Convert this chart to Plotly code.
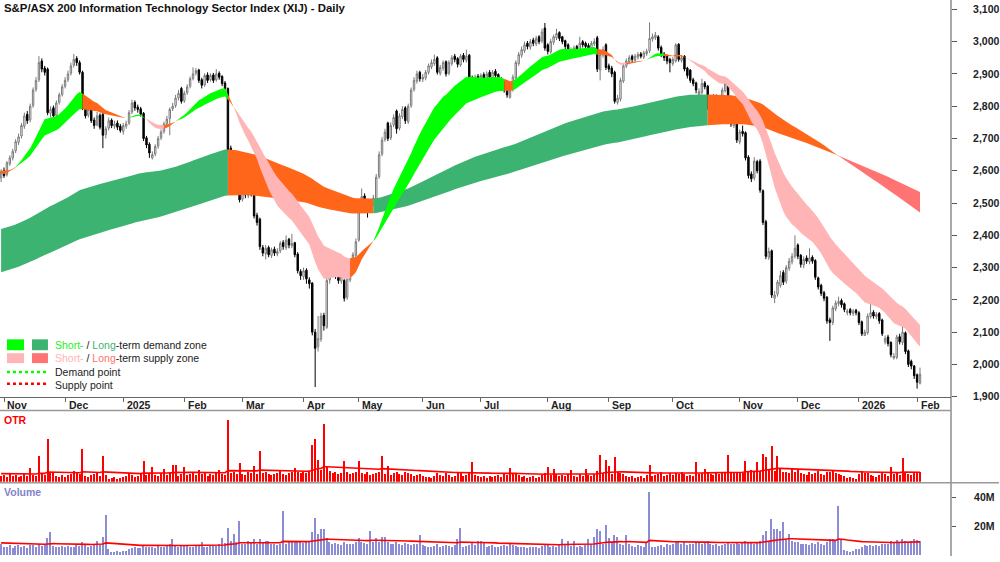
import numpy as np
import pandas as pd
import plotly.graph_objects as go

FONT = "Liberation Sans, Arial, sans-serif"

# ---------------- calendar / ticks ----------------
holidays = ["2024-12-25", "2024-12-26", "2025-01-01", "2025-01-27", "2025-04-18",
            "2025-04-21", "2025-04-25", "2025-06-09", "2025-12-25", "2025-12-26",
            "2026-01-01", "2026-01-26"]
dates = [d for d in pd.bdate_range("2024-10-31", "2026-02-03")
         if d.strftime("%Y-%m-%d") not in holidays]

month_labels = ["Nov", "Dec", "2025", "Feb", "Mar", "Apr", "May", "Jun", "Jul",
                "Aug", "Sep", "Oct", "Nov", "Dec", "2026", "Feb"]
price_ticks = [1900, 2000, 2100, 2200, 2300, 2400, 2500, 2600, 2700, 2800, 2900, 3000, 3100]
price_ticktext = ["1,900", "2,000", "2,100", "2,200", "2,300", "2,400", "2,500",
                  "2,600", "2,700", "2,800", "2,900", "3,000", "3,100"]
vol_ticks = [20, 40]
vol_ticktext = ["20M", "40M"]

# ---------------- daily OHLC (index points) ----------------
open_ = [
    2578, 2600, 2588, 2622, 2640, 2662, 2688, 2708, 2738, 2775, 2758, 2802, 2852, 2882, 2940, 2918, 2915, 2778, 2795, 2772, 2812, 2836,
    2862, 2882, 2902, 2927, 2948, 2935, 2905, 2798, 2772, 2790, 2757, 2742, 2772, 2775, 2712, 2732, 2757, 2738, 2748, 2738,
    2722, 2738, 2748, 2782, 2812, 2797, 2792, 2778, 2702, 2682, 2640, 2652, 2676, 2702, 2722, 2746, 2762, 2792, 2802, 2826, 2855,
    2817, 2842, 2862, 2886, 2902, 2912, 2882, 2866, 2897, 2882, 2897, 2882, 2902, 2892, 2872, 2855, 2670, 2638, 2598, 2555,
    2512, 2537, 2523, 2545, 2535, 2462, 2450, 2362, 2343, 2362, 2338, 2357, 2343, 2352, 2378, 2362, 2388, 2368, 2377, 2342, 2288,
    2272, 2292, 2262, 2252, 2100, 2055, 2078, 2152, 2115, 2262, 2282, 2302, 2278, 2258, 2260, 2208, 2262, 2308, 2338,
    2385, 2492, 2522, 2500, 2478, 2498, 2512, 2582, 2652, 2697, 2748, 2702, 2742, 2785, 2732, 2768, 2795, 2752, 2802, 2852, 2878, 2905,
    2884, 2888, 2905, 2922, 2932, 2950, 2902, 2918, 2938, 2902, 2932, 2955, 2948, 2928, 2958, 2942, 2958, 2888, 2868, 2893,
    2878, 2898, 2884, 2905, 2888, 2908, 2898, 2885, 2875, 2852, 2828, 2852, 2888, 2932, 2958, 2972, 2995, 2983, 3005, 2993, 3015, 3002, 3042,
    2990, 2968, 2998, 3012, 3028, 3015, 3003, 2990, 2968, 2972, 2985, 2968, 3000, 2995, 2988, 2978, 2993, 3012, 2912, 2958, 2990,
    2925, 2918, 2905, 2812, 2822, 2878, 2925, 2938, 2955, 2942, 2952, 2962, 2952, 2963, 2972, 3008, 3012, 3015, 2982, 2962, 2955, 2945,
    2932, 2940, 2992, 2942, 2955, 2918, 2912, 2882, 2872, 2835, 2842, 2872, 2862, 2798, 2818, 2832, 2800, 2815, 2848, 2868, 2772, 2740, 2748,
    2690, 2722, 2718, 2642, 2590, 2578, 2628, 2630, 2538, 2442, 2332, 2352, 2205, 2218, 2245, 2285, 2258, 2298, 2318, 2335,
    2370, 2338, 2308, 2330, 2318, 2332, 2322, 2268, 2245, 2222, 2208, 2138, 2130, 2172, 2188, 2198, 2188, 2160, 2170, 2158, 2168,
    2160, 2132, 2090, 2098, 2148, 2162, 2148, 2158, 2138, 2070, 2085, 2068, 2020, 2022, 2086, 2068, 2098, 2042, 2010, 1995,
    1968, 1942,
]
high = [
    2605, 2610, 2630, 2648, 2668, 2698, 2715, 2748, 2780, 2785, 2808, 2858, 2890, 2955, 2948, 2925, 2920, 2800, 2802, 2818, 2842, 2868,
    2890, 2910, 2935, 2962, 2955, 2942, 2910, 2805, 2798, 2795, 2765, 2782, 2778, 2780, 2738, 2765, 2762, 2755, 2756, 2745,
    2748, 2755, 2788, 2820, 2818, 2805, 2798, 2782, 2708, 2688, 2660, 2682, 2708, 2728, 2752, 2770, 2796, 2810, 2835, 2850, 2860,
    2848, 2868, 2892, 2920, 2918, 2916, 2888, 2902, 2905, 2902, 2903, 2915, 2908, 2896, 2878, 2858, 2678, 2645, 2605, 2562,
    2545, 2545, 2550, 2552, 2540, 2470, 2455, 2370, 2370, 2368, 2362, 2365, 2360, 2382, 2385, 2400, 2392, 2405, 2380, 2348, 2295,
    2300, 2298, 2270, 2255, 2110, 2150, 2160, 2160, 2338, 2295, 2312, 2308, 2285, 2290, 2265, 2272, 2318, 2348, 2390,
    2500, 2545, 2530, 2505, 2508, 2525, 2590, 2660, 2705, 2730, 2752, 2750, 2775, 2790, 2778, 2800, 2800, 2808, 2858, 2890, 2910, 2910,
    2900, 2912, 2932, 2945, 2960, 2955, 2928, 2942, 2942, 2942, 2958, 2962, 2952, 2962, 2965, 2975, 2962, 2895, 2898, 2900,
    2902, 2905, 2908, 2912, 2912, 2915, 2902, 2890, 2880, 2858, 2858, 2898, 2942, 2968, 2985, 3000, 3002, 3008, 3012, 3018, 3020, 3040, 3058,
    2995, 3008, 3022, 3040, 3032, 3018, 3006, 2995, 2982, 2988, 2990, 3015, 3005, 3000, 2995, 3002, 3010, 3018, 2968, 2985, 2995,
    2932, 2925, 2910, 2835, 2888, 2932, 2948, 2958, 2960, 2962, 2968, 2968, 2972, 2978, 3060, 3025, 3030, 3020, 2988, 2968, 2960, 2950,
    2952, 2995, 2995, 2958, 2958, 2922, 2915, 2888, 2876, 2855, 2885, 2878, 2866, 2828, 2838, 2836, 2822, 2858, 2885, 2872, 2778, 2762, 2752,
    2728, 2740, 2722, 2648, 2598, 2642, 2634, 2636, 2542, 2448, 2362, 2356, 2228, 2262, 2290, 2292, 2308, 2330, 2345, 2400,
    2375, 2342, 2335, 2338, 2360, 2338, 2326, 2272, 2250, 2228, 2212, 2145, 2182, 2198, 2210, 2204, 2192, 2172, 2175, 2172, 2172,
    2165, 2136, 2108, 2158, 2190, 2168, 2162, 2162, 2142, 2090, 2092, 2072, 2035, 2092, 2095, 2130, 2102, 2046, 2015, 1998,
    1972, 1990,
]
low = [
    2565, 2578, 2582, 2615, 2632, 2655, 2680, 2700, 2730, 2745, 2750, 2795, 2845, 2875, 2905, 2895, 2772, 2765, 2745, 2765, 2805, 2830,
    2855, 2875, 2895, 2920, 2925, 2898, 2788, 2762, 2765, 2748, 2730, 2738, 2728, 2670, 2700, 2725, 2732, 2730, 2726, 2718,
    2712, 2730, 2742, 2776, 2786, 2780, 2768, 2692, 2670, 2640, 2635, 2645, 2668, 2695, 2715, 2740, 2710, 2785, 2795, 2818, 2808,
    2810, 2835, 2855, 2880, 2895, 2872, 2855, 2860, 2872, 2876, 2872, 2876, 2882, 2862, 2846, 2655, 2625, 2590, 2552, 2502,
    2505, 2515, 2515, 2520, 2452, 2430, 2355, 2335, 2325, 2332, 2330, 2336, 2335, 2345, 2355, 2355, 2360, 2360, 2332, 2282, 2262,
    2262, 2250, 2235, 2090, 1930, 2040, 2070, 2105, 2110, 2250, 2270, 2265, 2250, 2250, 2195, 2200, 2255, 2300, 2330,
    2380, 2485, 2488, 2455, 2470, 2490, 2505, 2575, 2645, 2690, 2692, 2695, 2735, 2715, 2725, 2760, 2745, 2745, 2795, 2845, 2870, 2876,
    2875, 2880, 2898, 2915, 2925, 2898, 2895, 2910, 2892, 2896, 2925, 2936, 2920, 2922, 2936, 2935, 2878, 2820, 2860, 2872,
    2870, 2876, 2878, 2882, 2880, 2886, 2872, 2862, 2842, 2826, 2823, 2845, 2882, 2925, 2950, 2965, 2976, 2975, 2986, 2986, 2992, 2995, 2972,
    2960, 2962, 2990, 3005, 3002, 2992, 2976, 2966, 2960, 2965, 2962, 2962, 2982, 2976, 2972, 2970, 2986, 2906, 2880, 2950, 2912,
    2905, 2890, 2808, 2805, 2815, 2872, 2918, 2930, 2936, 2936, 2945, 2948, 2946, 2956, 2965, 3000, 3005, 2972, 2952, 2940, 2930, 2905,
    2925, 2935, 2938, 2935, 2908, 2886, 2872, 2862, 2840, 2826, 2836, 2852, 2788, 2790, 2810, 2796, 2794, 2808, 2842, 2762, 2736, 2732, 2686,
    2682, 2706, 2632, 2576, 2565, 2570, 2592, 2532, 2432, 2326, 2324, 2206, 2190, 2210, 2238, 2246, 2250, 2290, 2310, 2328,
    2326, 2300, 2298, 2312, 2310, 2312, 2262, 2232, 2212, 2196, 2126, 2073, 2122, 2165, 2180, 2176, 2162, 2152, 2152, 2150, 2152,
    2122, 2088, 2088, 2092, 2142, 2142, 2140, 2126, 2088, 2062, 2056, 2022, 2015, 2016, 2062, 2060, 2032, 1992, 1985, 1955,
    1925, 1938,
]
close = [
    2598, 2585, 2625, 2640, 2660, 2690, 2705, 2740, 2770, 2755, 2800, 2850, 2880, 2935, 2915, 2905, 2780, 2790, 2770, 2810, 2835, 2860,
    2880, 2900, 2925, 2945, 2935, 2905, 2795, 2770, 2790, 2755, 2740, 2770, 2735, 2710, 2730, 2755, 2740, 2745, 2735, 2725,
    2740, 2745, 2780, 2810, 2795, 2790, 2775, 2700, 2680, 2655, 2650, 2675, 2700, 2720, 2745, 2760, 2790, 2800, 2825, 2840, 2815,
    2840, 2860, 2885, 2900, 2910, 2880, 2865, 2895, 2880, 2895, 2880, 2900, 2890, 2870, 2855, 2665, 2635, 2600, 2560, 2510,
    2535, 2525, 2540, 2530, 2460, 2440, 2365, 2345, 2360, 2340, 2355, 2345, 2350, 2375, 2365, 2385, 2370, 2375, 2340, 2290, 2275,
    2290, 2265, 2250, 2100, 2050, 2080, 2150, 2120, 2260, 2280, 2300, 2275, 2260, 2280, 2205, 2265, 2310, 2340, 2380,
    2490, 2520, 2495, 2480, 2500, 2515, 2580, 2650, 2695, 2720, 2700, 2740, 2765, 2730, 2770, 2790, 2755, 2800, 2850, 2880, 2900, 2885,
    2890, 2905, 2925, 2935, 2945, 2905, 2920, 2935, 2900, 2935, 2950, 2945, 2930, 2955, 2945, 2955, 2885, 2870, 2890, 2880,
    2895, 2885, 2900, 2890, 2905, 2895, 2880, 2870, 2850, 2835, 2850, 2890, 2935, 2960, 2975, 2990, 2985, 3000, 2995, 3010, 3000, 3030, 2980,
    2970, 3000, 3015, 3025, 3010, 3000, 2985, 2975, 2975, 2980, 2970, 2995, 2990, 2985, 2980, 2995, 3000, 2915, 2960, 2975, 2920,
    2915, 2900, 2815, 2825, 2880, 2925, 2940, 2950, 2945, 2955, 2960, 2955, 2965, 2970, 3010, 3015, 3020, 2980, 2960, 2950, 2940, 2935,
    2945, 2990, 2945, 2950, 2915, 2895, 2880, 2870, 2850, 2845, 2870, 2860, 2795, 2820, 2830, 2805, 2815, 2850, 2870, 2770, 2745, 2755, 2695,
    2720, 2715, 2640, 2585, 2575, 2630, 2600, 2540, 2440, 2335, 2350, 2215, 2215, 2255, 2275, 2255, 2300, 2320, 2335, 2360,
    2335, 2310, 2325, 2320, 2330, 2320, 2270, 2240, 2220, 2205, 2135, 2130, 2175, 2190, 2195, 2185, 2170, 2165, 2160, 2165, 2160,
    2130, 2095, 2100, 2150, 2160, 2150, 2155, 2135, 2095, 2080, 2065, 2030, 2025, 2085, 2070, 2100, 2040, 2000, 1995, 1965,
    1945, 1970,
]

# ---------------- OTR (%) and Volume (millions) ----------------
otr = [
    0.6, 0.7, 0.5, 0.8, 0.6, 0.7, 0.5, 0.6, 0.9, 0.6, 1.5, 0.7, 0.6, 2.7, 0.8, 0.7, 4.4, 0.9, 1.0, 0.6, 0.5, 0.7,
    0.5, 0.7, 0.8, 1.2, 0.9, 0.8, 3.4, 0.6, 0.5, 0.7, 0.8, 0.9, 0.6, 2.7, 0.7, 0.3, 0.4, 0.5, 0.3, 0.4,
    0.5, 0.6, 0.9, 0.7, 0.5, 0.6, 0.8, 2.2, 0.7, 0.9, 1.6, 0.7, 0.6, 0.9, 1.4, 0.7, 1.1, 1.8, 1.8, 0.6, 0.8,
    1.6, 0.7, 0.8, 1.0, 0.7, 1.3, 0.8, 0.9, 0.6, 0.8, 0.7, 0.9, 1.3, 0.8, 0.7, 6.4, 0.9, 1.1, 0.8, 2.0,
    0.8, 0.7, 1.0, 0.9, 1.7, 0.8, 3.2, 0.9, 1.1, 0.8, 0.7, 0.8, 0.9, 1.2, 0.8, 0.7, 0.9, 1.0, 1.5, 1.1, 0.9,
    1.0, 0.9, 1.2, 3.8, 4.4, 2.3, 1.3, 6.0, 1.6, 1.2, 0.9, 1.0, 0.8, 0.9, 2.2, 1.1, 0.8, 0.9, 1.0,
    2.2, 0.9, 0.8, 1.0, 0.7, 0.8, 0.9, 1.1, 2.7, 0.8, 1.7, 0.7, 0.9, 1.0, 0.8, 0.7, 1.0, 0.9, 0.8, 0.6, 0.7, 0.8,
    0.6, 0.5, 0.5, 0.4, 0.6, 0.9, 0.7, 0.6, 0.9, 0.7, 0.5, 0.6, 1.1, 0.9, 0.6, 0.7, 1.0, 2.1, 0.7, 0.6,
    0.5, 0.6, 0.4, 0.6, 0.5, 0.6, 0.7, 0.5, 0.8, 0.7, 1.5, 0.9, 0.8, 0.7, 0.5, 0.6, 0.4, 0.5, 0.6, 0.4, 0.5, 0.7, 0.9,
    1.6, 0.7, 1.4, 0.8, 0.6, 0.7, 0.6, 0.8, 1.3, 0.6, 0.5, 0.8, 0.6, 1.4, 0.7, 0.6, 0.8, 1.2, 2.8, 0.9, 2.3,
    1.7, 0.8, 2.6, 1.0, 0.9, 0.8, 0.6, 0.5, 0.6, 0.4, 0.5, 0.6, 0.4, 0.7, 1.8, 0.6, 0.7, 0.8, 1.0, 0.6, 0.7, 0.9,
    0.7, 0.9, 0.8, 1.1, 0.8, 0.6, 0.7, 0.6, 2.1, 0.8, 0.9, 1.4, 1.0, 0.8, 0.7, 0.9, 0.8, 0.9, 1.0, 2.8, 1.0, 0.9, 1.1,
    1.0, 0.9, 2.2, 1.2, 1.3, 1.1, 2.1, 1.2, 2.9, 2.6, 1.4, 3.7, 1.2, 2.7, 1.5, 1.1, 1.0, 0.9, 1.5, 1.0,
    1.4, 0.9, 0.8, 0.7, 1.0, 0.8, 0.9, 1.2, 0.8, 0.7, 1.0, 1.1, 1.3, 0.9, 0.8, 0.7, 0.6, 0.4, 0.5, 0.4, 0.3,
    0.8, 1.2, 0.9, 0.9, 0.7, 0.6, 0.5, 0.7, 0.9, 0.8, 0.6, 1.6, 0.8, 1.0, 0.7, 2.5, 0.9, 0.8, 0.7, 0.9,
    1.1, 1.0,
]
volume = [
    7.5, 6.0, 5.5, 6.8, 5.0, 6.2, 7.0, 5.8, 6.5, 5.2, 7.2, 6.8, 6.0, 7.5, 6.4, 7.0, 12.0, 16.0, 6.5, 6.0, 5.5, 6.3,
    6.0, 6.5, 5.8, 6.0, 7.0, 6.2, 9.0, 7.0, 6.0, 6.5, 7.2, 10.0, 7.0, 12.5, 28.0, 4.0, 2.5, 2.0, 2.8, 2.5,
    2.8, 3.2, 4.5, 5.0, 5.5, 4.8, 5.2, 6.5, 5.8, 6.0, 5.5, 5.0, 6.2, 5.5, 6.0, 6.5, 7.5, 11.0, 7.0, 6.0, 6.5,
    6.5, 7.0, 6.0, 5.5, 6.8, 7.0, 9.0, 6.0, 5.5, 6.5, 7.0, 6.2, 8.0, 12.0, 8.5, 19.0, 10.0, 15.0, 9.0, 24.0,
    8.0, 7.5, 10.0, 8.5, 11.0, 8.0, 11.0, 8.5, 10.0, 10.0, 8.0, 7.5, 7.0, 8.0, 31.0, 7.5, 9.0, 10.0, 9.5, 10.0, 9.0,
    8.5, 9.0, 10.0, 16.0, 26.0, 15.0, 18.0, 18.0, 12.0, 9.0, 8.0, 8.5, 7.5, 7.0, 9.5, 8.0, 7.5, 8.0, 9.0,
    12.0, 9.0, 8.5, 8.0, 17.0, 9.0, 12.0, 9.5, 13.0, 13.0, 9.0, 8.0, 7.5, 9.0, 8.0, 7.0, 8.5, 7.5, 7.0, 8.0, 7.5, 14.0,
    7.0, 6.5, 6.0, 5.5, 6.5, 7.5, 6.0, 6.5, 7.0, 6.5, 6.0, 7.0, 11.0, 19.0, 6.0, 6.5, 7.0, 8.5, 7.0, 10.0,
    10.0, 9.5, 6.0, 6.5, 7.0, 6.0, 5.5, 6.5, 7.0, 6.5, 8.0, 7.0, 6.5, 6.0, 5.5, 6.0, 5.0, 5.5, 6.0, 5.5, 5.0, 6.5, 7.0,
    7.5, 6.0, 6.5, 6.0, 7.0, 11.0, 7.0, 10.0, 6.5, 10.0, 6.0, 6.5, 5.5, 7.0, 11.0, 7.5, 13.0, 18.0, 17.0, 8.0, 21.0,
    12.0, 9.0, 14.0, 13.0, 8.0, 7.0, 14.0, 7.5, 6.5, 6.0, 7.0, 6.5, 6.0, 9.0, 44.0, 5.5, 6.0, 6.5, 7.0, 6.0, 7.5, 7.0,
    8.0, 9.0, 10.0, 8.0, 9.5, 7.0, 7.5, 8.0, 9.0, 8.5, 8.0, 9.0, 10.0, 7.5, 7.0, 8.0, 6.5, 7.0, 7.5, 9.0, 8.0, 7.5, 8.5,
    8.0, 9.0, 10.0, 9.0, 8.5, 8.0, 9.5, 10.0, 14.0, 17.0, 10.0, 25.0, 18.0, 18.0, 17.0, 23.0, 11.0, 15.0, 10.0, 9.0,
    9.0, 8.0, 7.5, 8.0, 7.0, 8.5, 7.5, 9.0, 8.0, 7.0, 9.5, 11.0, 11.0, 10.0, 34.0, 11.0, 3.5, 3.0, 2.5, 3.0, 4.0,
    4.5, 6.0, 7.0, 6.5, 7.0, 6.5, 7.0, 6.5, 7.5, 8.0, 7.5, 10.0, 9.0, 10.5, 9.5, 11.0, 10.0, 9.5, 10.0, 11.0,
    10.5, 10.0,
]

short_periods = [20, 35]
short_seeds = [2590, 2600]
long_periods = [150, 250]
long_seeds = [2417, 2283]
otr_avg_seed = 0.85
vol_avg_seed = 8.5

n = len(dates)
for name, arr in [("open", open_), ("high", high), ("low", low), ("close", close),
                  ("otr", otr), ("volume", volume)]:
    assert len(arr) == n, (name, len(arr), n)

idx = np.arange(n)
c = np.array(close, float)

month_pos = []
prev = None
for i, d in enumerate(dates):
    key = (d.year, d.month)
    if prev is not None and key != prev:
        month_pos.append(i)
    prev = key
assert len(month_pos) == len(month_labels), month_pos


def ema(vals, period, seed):
    a = 2.0 / (period + 1)
    e = seed
    out = []
    for v in vals:
        e = e + a * (v - e)
        out.append(e)
    return np.array(out)


fig = go.Figure()

MIX = "#FF661A"


def get_runs(st):
    runs = []
    i = 0
    while i < len(st):
        j = i
        while j + 1 < len(st) and st[j + 1] == st[i]:
            j += 1
        runs.append([st[i], i, j])
        i = j + 1
    return runs


def add_band(fast, slow, colors, use_mid, min_run):
    top = np.maximum(fast, slow)
    bot = np.minimum(fast, slow)
    ref = (fast + slow) / 2.0 if use_mid else fast
    st = []
    for ci, fi, si, ri in zip(c, fast, slow, ref):
        if fi >= si:
            st.append("up" if ci >= ri else "mix")
        else:
            st.append("down" if ci <= ri else "mix")
    runs = get_runs(st)
    for r in range(1, len(runs) - 1):
        s, a, b = runs[r]
        if b - a + 1 < min_run:
            runs[r][0] = runs[r - 1][0]
    st2 = [None] * n
    for s, a, b in runs:
        for t in range(a, b + 1):
            st2[t] = s
    for s, i, j in get_runs(st2):
        k = min(j + 1, n - 1)
        xs = list(idx[i:k + 1])
        yt = list(top[i:k + 1])
        yb = list(bot[i:k + 1])
        fig.add_trace(go.Scatter(
            x=xs + xs[::-1], y=yt + yb[::-1], fill="toself",
            fillcolor=colors[s], mode="lines", line=dict(width=0, color=colors[s]),
            hoverinfo="skip", showlegend=False, xaxis="x", yaxis="y"))


lf = ema(c, long_periods[0], long_seeds[0])
ls = ema(c, long_periods[1], long_seeds[1])
sf = ema(c, short_periods[0], short_seeds[0])
ss = ema(c, short_periods[1], short_seeds[1])
add_band(lf, ls, {"up": "#3CB371", "down": "#FF7373", "mix": MIX}, use_mid=False, min_run=5)
add_band(sf, ss, {"up": "#00FF00", "down": "#FFB5B5", "mix": MIX}, use_mid=True, min_run=2)

fig.add_trace(go.Candlestick(
    x=idx, open=open_, high=high, low=low, close=close,
    increasing=dict(line=dict(color="#7a7a7a", width=1), fillcolor="white"),
    decreasing=dict(line=dict(color="black", width=1), fillcolor="black"),
    whiskerwidth=0, showlegend=False, hoverinfo="skip", xaxis="x", yaxis="y"))

# OTR panel
fig.add_trace(go.Bar(x=idx, y=otr, width=0.38, marker=dict(color="#FF0000", line=dict(width=0)),
                     showlegend=False, hoverinfo="skip", xaxis="x2", yaxis="y2"))
fig.add_trace(go.Scatter(x=idx, y=ema(np.array(otr), 50, otr_avg_seed), mode="lines",
                         line=dict(color="#FF0000", width=1.6), showlegend=False,
                         hoverinfo="skip", xaxis="x2", yaxis="y2"))
# Volume panel
fig.add_trace(go.Bar(x=idx, y=volume, width=0.5, marker=dict(color="#8C8CD4", line=dict(width=0)),
                     showlegend=False, hoverinfo="skip", xaxis="x3", yaxis="y3"))
fig.add_trace(go.Scatter(x=idx, y=ema(np.array(volume), 50, vol_avg_seed), mode="lines",
                         line=dict(color="#FF0000", width=1.6), showlegend=False,
                         hoverinfo="skip", xaxis="x3", yaxis="y3"))

H = 562.0
PW = 952.0


def py(px):
    return 1 - px / H


def pxx(px):
    return px / PW


x_lo, x_hi = -0.38, 326.66

axis_common = dict(showgrid=False, zeroline=False, fixedrange=True)
fig.update_layout(
    width=1000, height=562,
    margin=dict(l=0, r=48, t=0, b=0),
    paper_bgcolor="white", plot_bgcolor="white",
    showlegend=False, bargap=0,
    font=dict(family=FONT, size=10, color="#222"),
    xaxis=dict(domain=[0, 1], range=[x_lo, x_hi], anchor="y", showline=True,
               linecolor="#666", linewidth=1, ticks="outside", ticklen=4,
               tickcolor="#666", tickvals=month_pos, showticklabels=False,
               rangeslider=dict(visible=False), **axis_common),
    xaxis2=dict(domain=[0, 1], range=[x_lo, x_hi], anchor="y2", showticklabels=False,
                showline=False, ticks="", **axis_common),
    xaxis3=dict(domain=[0, 1], range=[x_lo, x_hi], anchor="y3", showticklabels=False,
                showline=False, ticks="", **axis_common),
    yaxis=dict(domain=[py(401), 1], range=[1900, 3129], side="right",
               tickvals=price_ticks, ticktext=price_ticktext, ticks="outside",
               ticklen=5, tickcolor="#555", ticklabelstandoff=14,
               tickfont=dict(family=FONT, size=10.5, color="#222", weight="bold"),
               showline=False, **axis_common),
    yaxis2=dict(domain=[py(487), py(415)], range=[0, 7.3], showticklabels=False,
                ticks="", showline=False, **axis_common),
    yaxis3=dict(domain=[py(561), py(489)], range=[0, 49.66], side="right",
                tickvals=vol_ticks, ticktext=vol_ticktext, ticks="outside", ticklen=4,
                tickcolor="#555", ticklabelstandoff=16,
                tickfont=dict(family=FONT, size=10.5, color="#222", weight="bold"),
                showline=False, **axis_common),
)

shapes = [
    dict(type="line", xref="paper", yref="paper", x0=1, x1=1, y0=0, y1=1,
         line=dict(color="#555", width=1)),
    dict(type="line", xref="paper", yref="paper", x0=0, x1=1, y0=py(415), y1=py(415),
         line=dict(color="#999", width=1.5)),
    dict(type="line", xref="paper", yref="paper", x0=0, x1=1000 / PW, y0=py(488), y1=py(488),
         line=dict(color="#999", width=1.5)),
    # legend swatches
    dict(type="rect", xref="paper", yref="paper", x0=pxx(7), x1=pxx(24), y0=py(354), y1=py(343),
         fillcolor="#00FF00", line=dict(width=0)),
    dict(type="rect", xref="paper", yref="paper", x0=pxx(32), x1=pxx(48), y0=py(354), y1=py(343),
         fillcolor="#3CB371", line=dict(width=0)),
    dict(type="rect", xref="paper", yref="paper", x0=pxx(7), x1=pxx(24), y0=py(367), y1=py(357),
         fillcolor="#FFB5B5", line=dict(width=0)),
    dict(type="rect", xref="paper", yref="paper", x0=pxx(32), x1=pxx(48), y0=py(367), y1=py(357),
         fillcolor="#FF7373", line=dict(width=0)),
    dict(type="line", xref="paper", yref="paper", x0=pxx(7), x1=pxx(48), y0=py(376), y1=py(376),
         line=dict(color="#00FF00", width=2.5, dash="dot")),
    dict(type="line", xref="paper", yref="paper", x0=pxx(7), x1=pxx(48), y0=py(388), y1=py(388),
         line=dict(color="#FF0000", width=2.5, dash="dot")),
]
fig.update_layout(shapes=shapes)

ann = [
    dict(text="S&P/ASX 200 Information Technology Sector Index (XIJ) - Daily",
         xref="paper", yref="paper", x=pxx(2), y=py(0), xanchor="left", yanchor="top",
         showarrow=False, font=dict(family=FONT, size=11.4, color="#111", weight="bold")),
    dict(text="OTR", xref="paper", yref="paper", x=pxx(2), y=py(425), xanchor="left",
         yanchor="middle", showarrow=False,
         font=dict(family=FONT, size=10.5, color="#FF0000", weight="bold")),
    dict(text="Volume", xref="paper", yref="paper", x=pxx(2), y=py(497), xanchor="left",
         yanchor="middle", showarrow=False,
         font=dict(family=FONT, size=10.5, color="#8484C8", weight="bold")),
    dict(text='<span style="color:#22EE22">Short-</span> / <span style="color:#3CB371">Long</span>-term demand zone',
         xref="paper", yref="paper", x=pxx(53), y=py(349), xanchor="left", yanchor="middle",
         showarrow=False, font=dict(family=FONT, size=10.5, color="#222")),
    dict(text='<span style="color:#FFB5B5">Short-</span> / <span style="color:#FF7373">Long</span>-term supply zone',
         xref="paper", yref="paper", x=pxx(53), y=py(362), xanchor="left", yanchor="middle",
         showarrow=False, font=dict(family=FONT, size=10.5, color="#222")),
    dict(text="Demand point", xref="paper", yref="paper", x=pxx(53), y=py(376), xanchor="left",
         yanchor="middle", showarrow=False, font=dict(family=FONT, size=10.5, color="#222")),
    dict(text="Supply point", xref="paper", yref="paper", x=pxx(53), y=py(389), xanchor="left",
         yanchor="middle", showarrow=False, font=dict(family=FONT, size=10.5, color="#222")),
]
for pos, lab in zip(month_pos, month_labels):
    ann.append(dict(text=lab, xref="x", yref="paper", x=pos + 0.5, y=py(409),
                    xanchor="left", yanchor="middle", showarrow=False,
                    font=dict(family=FONT, size=10.5, color="#222", weight="bold")))
fig.update_layout(annotations=ann)

fig.write_html("out.html")
